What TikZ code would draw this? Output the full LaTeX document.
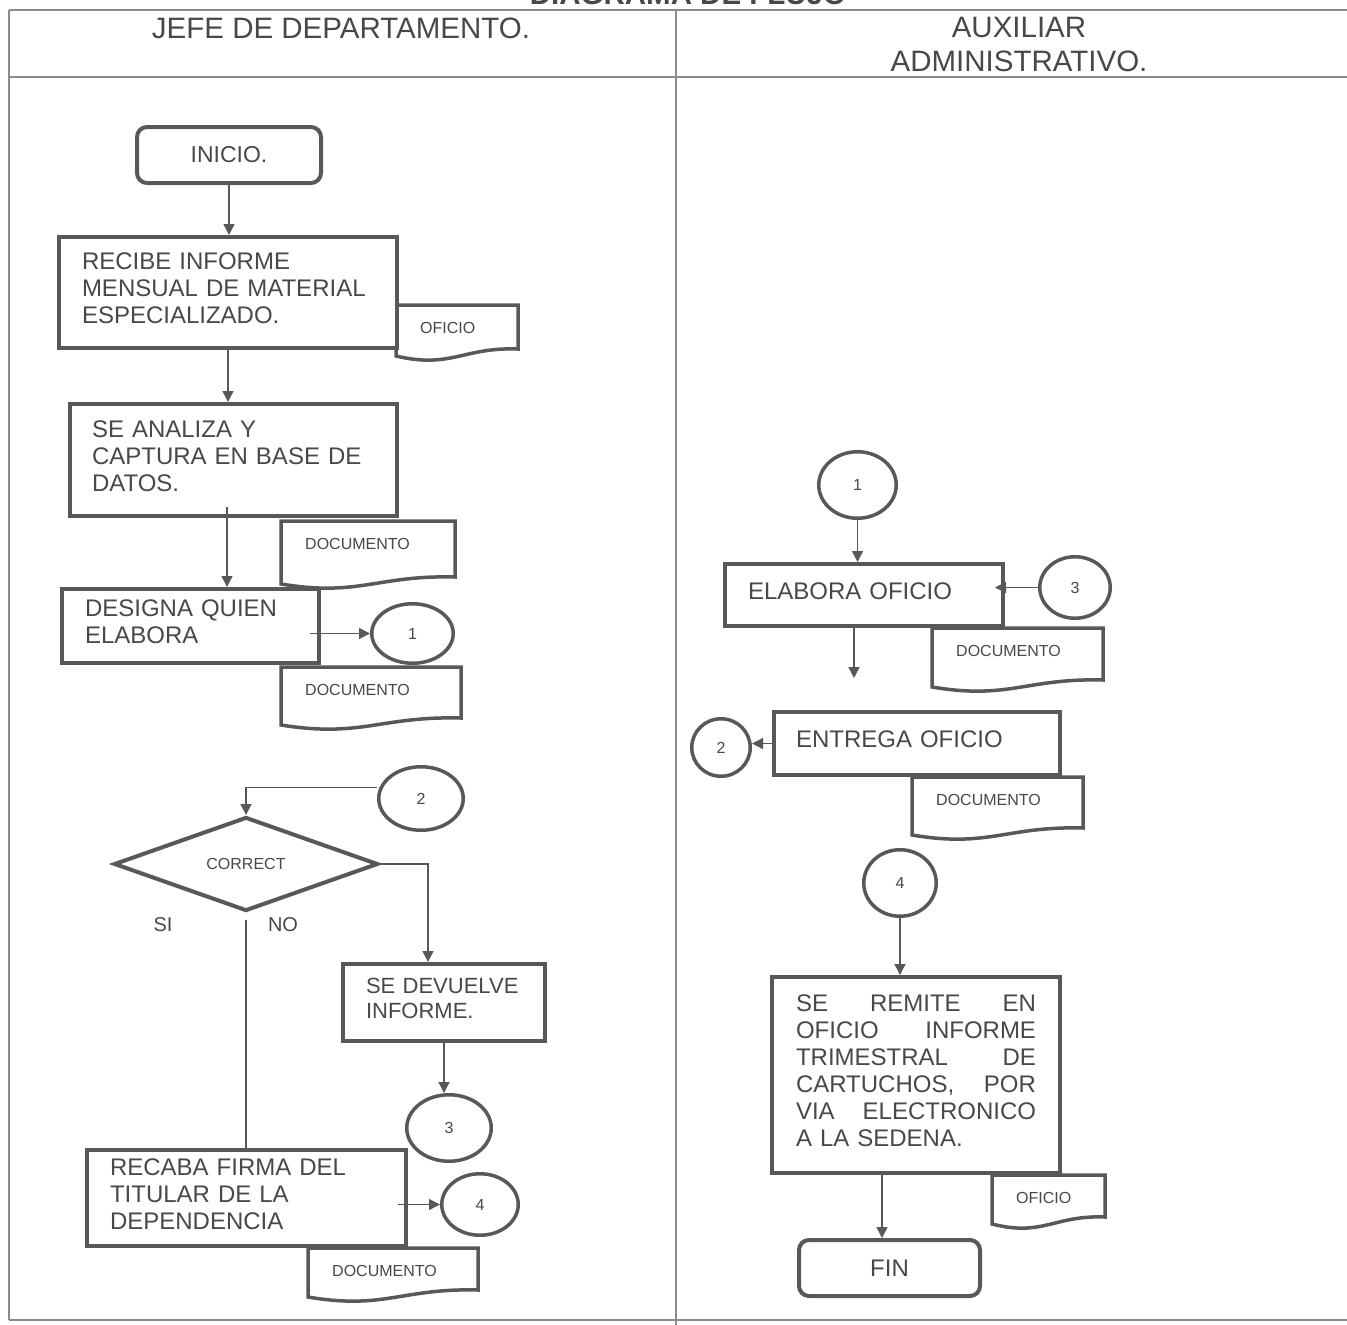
\documentclass[tikz,border=0pt]{standalone}
\usepackage{fontspec}
\setmainfont{Liberation Sans}
\usetikzlibrary{arrows.meta,shapes.geometric}
\definecolor{ink}{RGB}{88,88,88}
\definecolor{txt}{RGB}{72,72,72}
\definecolor{framec}{RGB}{140,140,140}
\newcommand\hdrfont{\fontsize{29.5}{34}\selectfont}
\newcommand\hdrbfont{\fontsize{29.5}{34}\selectfont\bfseries}
\newcommand\boxfont{\fontsize{24}{27}\selectfont}
\newcommand\midfont{\fontsize{22}{25}\selectfont}
\newcommand\smallfont{\fontsize{16}{18}\selectfont}
\newcommand\lblfont{\fontsize{20}{22}\selectfont}
% document symbol: name, left, top, right, bottom-right, text
\newcommand\docshape[6]{%
  \draw[docline] (#2,#3) -- (#4,#3) -- (#4,#5)
    .. controls ({#2+0.55*(#4-#2)},#5-2) and ({#2+0.45*(#4-#2)},#5+20) .. (#2,#5+7) -- cycle;
  \node[doctext, anchor=west] (#1) at (#2+24,#3+23) {#6};
}
\tikzset{
  framel/.style={draw=framec, line width=1.5pt},
  box/.style={draw=ink, line width=4pt, fill=white, rectangle, inner ysep=0pt, font=\boxfont, text=txt, align=left,
              execute at end node={\par\vspace*{8pt}}},
  termbox/.style={draw=ink, line width=4pt, fill=white, rounded corners=10pt, inner sep=0pt, text=txt},
  conn/.style={draw=ink, line width=3.5pt, fill=white, ellipse, inner sep=0pt, font=\smallfont, text=txt},
  docline/.style={draw=ink, line width=3.5pt, fill=white},
  doctext/.style={font=\smallfont, text=txt, inner sep=0pt},
  lbl/.style={font=\lblfont, text=txt, inner sep=0pt},
  arr/.style={draw=ink, line width=1.4pt, -{Triangle[length=11pt,width=11pt]}},
  ln/.style={draw=ink, line width=1.4pt},
}
\begin{document}
\begin{tikzpicture}[x=1pt,y=-1pt]
\useasboundingbox (0,0) rectangle (1347,1325);
% frame
\draw[framel] (9,10) -- (1347,10);
\draw[framel] (9,77) -- (1347,77);
\draw[framel] (9,10) -- (9,1320);
\draw[framel] (676,10) -- (676,1325);
\draw[framel] (9,1320) -- (1347,1320);
% titles
\node[font=\hdrbfont, text=txt, anchor=base, inner sep=0pt] (title) at (688,5) {DIAGRAMA DE FLUJO};
\node[font=\hdrfont, text=txt, anchor=base, inner sep=0pt] (jefe) at (341,38) {JEFE DE DEPARTAMENTO.};
\node[font=\hdrfont, text=txt, anchor=base, inner sep=0pt] (aux1) at (1019,37) {AUXILIAR};
\node[font=\hdrfont, text=txt, anchor=base, inner sep=0pt] (aux2) at (1019,71) {ADMINISTRATIVO.};
% documents
\docshape{d0}{396}{305}{518}{349}{OFICIO}
\docshape{d1}{281}{521}{455}{577}{DOCUMENTO}
\docshape{d2}{281}{667}{461}{718}{DOCUMENTO}
\docshape{d3}{308}{1248}{478}{1290}{DOCUMENTO}
\docshape{d4}{932}{628}{1103}{680}{DOCUMENTO}
\docshape{d5}{912}{777}{1083}{828}{DOCUMENTO}
\docshape{d6}{992}{1175}{1105}{1217}{OFICIO}
% left lane
\node[termbox, font=\fontsize{23}{26}\selectfont, minimum width=184pt, minimum height=56pt] (inicio) at (229,155) {INICIO.};
\node[box, minimum width=338pt, minimum height=111pt, text width=292pt, inner xsep=23pt] (recibe) at (228,292.5)
  {RECIBE INFORME\\MENSUAL DE MATERIAL\\ESPECIALIZADO.};
\node[box, minimum width=327pt, minimum height=112pt, text width=283pt, inner xsep=22pt] (analiza) at (233.5,460)
  {SE ANALIZA Y\\CAPTURA EN BASE DE\\DATOS.};
\node[box, minimum width=257pt, minimum height=74pt, text width=211pt, inner xsep=23pt] (designa) at (190.5,626)
  {DESIGNA QUIEN\\ELABORA};
\node[conn, minimum width=81.5pt, minimum height=59.5pt] (c1L) at (412.5,633.5) {1};
\node[conn, minimum width=84.5pt, minimum height=63.5pt] (c2L) at (421,798.5) {2};
\node[draw=ink, line width=4pt, fill=white, diamond, inner sep=0pt, minimum width=264pt, minimum height=94pt,
      font=\smallfont, text=txt] (dia) at (246,864) {CORRECT};
\node[lbl] (si) at (163,925) {SI};
\node[lbl] (no) at (283,925) {NO};
\node[box, font=\midfont, minimum width=202pt, minimum height=77pt, text width=156pt, inner xsep=23pt] (sedev) at (444,1002.5)
  {SE DEVUELVE\\INFORME.};
\node[conn, minimum width=84.5pt, minimum height=66.5pt] (c3L) at (449,1128) {3};
\node[box, minimum width=319pt, minimum height=96pt, text width=273pt, inner xsep=23pt] (recaba) at (246.5,1198)
  {RECABA FIRMA DEL\\TITULAR DE LA\\DEPENDENCIA};
\node[conn, minimum width=76.5pt, minimum height=61.5pt] (c4L) at (480,1204.5) {4};
% right lane
\node[conn, minimum width=77.5pt, minimum height=66.5pt] (c1R) at (857.5,485) {1};
\node[box, minimum width=278pt, minimum height=62pt, text width=232pt, inner xsep=23pt] (elabora) at (864,595)
  {ELABORA OFICIO};
\node[conn, minimum width=70.5pt, minimum height=61.5pt] (c3R) at (1075,587.5) {3};
\node[box, minimum width=286pt, minimum height=63pt, text width=242pt, inner xsep=22pt] (entrega) at (917,743.5)
  {ENTREGA OFICIO};
\node[conn, minimum width=58.5pt, minimum height=57.5pt] (c2R) at (721,747.5) {2};
\node[conn, minimum width=72.5pt, minimum height=66.5pt] (c4R) at (900,883) {4};
\node[box, minimum width=288pt, minimum height=196pt, text width=240pt, inner xsep=24pt] (remite) at (916,1075)
  {\makebox[240pt]{SE\hfill REMITE\hfill EN}\\
   \makebox[240pt]{OFICIO\hfill INFORME}\\
   \makebox[240pt]{TRIMESTRAL\hfill DE}\\
   \makebox[240pt]{CARTUCHOS,\hfill POR}\\
   \makebox[240pt]{VIA\hfill ELECTRONICO}\\
   A LA SEDENA.};
\node[termbox, font=\boxfont, minimum width=181pt, minimum height=56pt] (fin) at (889.5,1268) {FIN};
% connectors left
\draw[arr] (inicio.south) -- (inicio.south |- recibe.north);
\draw[arr] (recibe.south) -- (recibe.south |- analiza.north);
\coordinate (a3) at (227,507);
\draw[arr] (a3) -- (a3 |- designa.north);
\draw[arr] ([xshift=-11pt]designa.east |- c1L.west) -- (c1L.west);
\draw[arr] ([yshift=11pt]c2L.west) -| (dia.north);
\draw[arr] (dia.east) -| ([xshift=-16pt]sedev.north);
\draw[ln] ([yshift=-7pt]dia.south) -- (dia.south |- recaba.north);
\draw[arr] (sedev.south) -- (sedev.south |- c3L.north);
\draw[arr] ([xshift=-10pt]recaba.east |- c4L.west) -- (c4L.west);
% connectors right
\draw[arr] (c1R.south) -- (c1R.south |- elabora.north);
\draw[arr] (c3R.west) -- ([xshift=-10pt]elabora.east |- c3R.west);
\coordinate (ent) at (854,678);
\draw[arr] (ent |- elabora.south) -- (ent);
\draw[arr] (entrega.west) -- (entrega.west -| c2R.east);
\draw[arr] (c4R.south) -- (c4R.south |- remite.north);
\draw[arr] ([xshift=-34pt]remite.south) -- ([xshift=-34pt]remite.south |- fin.north);
\end{tikzpicture}
\end{document}
